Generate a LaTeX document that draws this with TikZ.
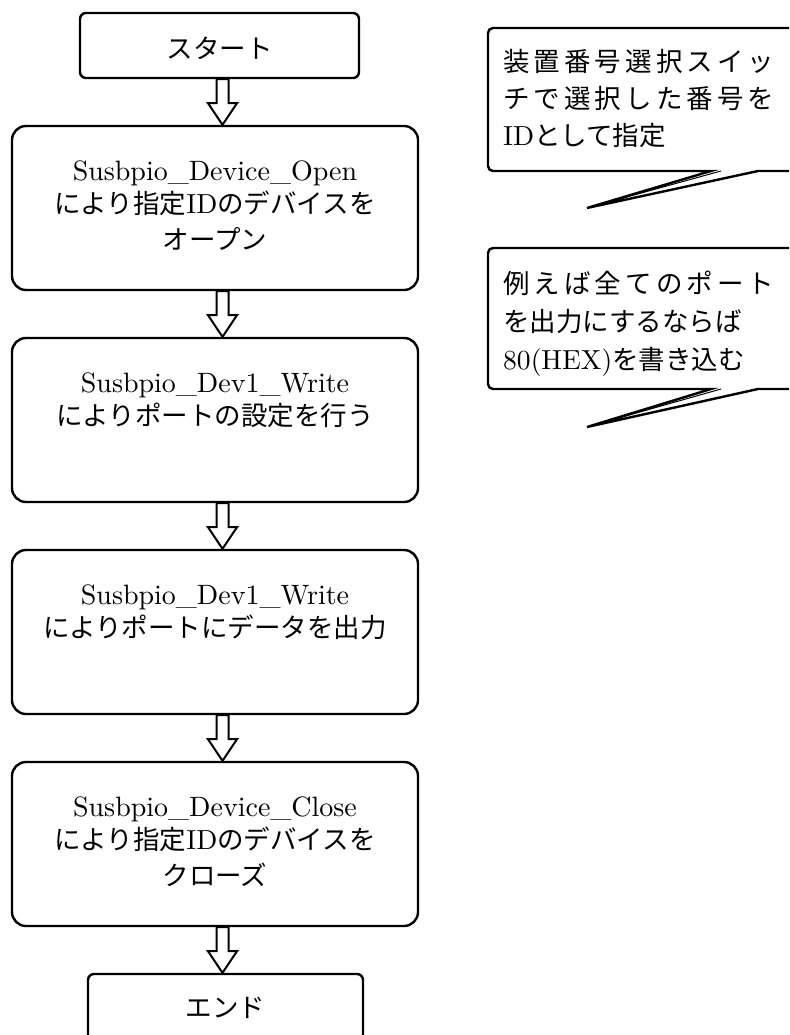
\documentclass[tikz,border=0pt]{standalone}
\usepackage{fontspec}
\newfontfamily\jp{Noto Sans CJK JP}
\newfontfamily\latf{lmroman10-regular.otf}
\usetikzlibrary{calc}
\newcommand\lt[1]{{\latf\addfontfeature{Scale=1.04}#1}}
\newcommand\blockarrow[2]{%
  \draw[barrow] let \p1=(#1.south), \p2=(#2.north) in
    (216.5pt,\y1) -- (216.5pt,\y1-24pt) -- (208pt,\y1-24pt) -- (222.5pt,\y2)
    -- (237pt,\y1-24pt) -- (228.5pt,\y1-24pt) -- (228.5pt,\y1) -- cycle;}
\tikzset{
  mainbox/.style={draw, line width=2.4pt, rounded corners=14pt, minimum width=406pt, minimum height=164pt, inner sep=0pt},
  term/.style={draw, line width=2.4pt, rounded corners=6pt, inner sep=0pt},
  jtxt/.style={inner sep=0pt, anchor=base, font=\jp\fontsize{26.5}{30}\selectfont},
  ltxt/.style={inner sep=0pt, anchor=base, font=\latf\fontsize{28}{30}\selectfont},
  ctxt/.style={inner sep=0pt, anchor=base west, font=\jp\fontsize{26.5}{30}\selectfont},
  barrow/.style={draw, fill=white, line width=2pt, line join=miter},
  callout/.style={draw, line width=2.4pt, line join=miter},
}
\begin{document}
\begin{tikzpicture}[x=1pt,y=-1pt]
\useasboundingbox (0,0) rectangle (789,1035);
\clip (0,0) rectangle (789,1035);

% terminals
\node[term, minimum width=279pt, minimum height=65pt] (start) at (219.5,45.5) {};
\node[jtxt] (tstart) at (219.5,59) {スタート};

\node[mainbox] (b1) at (215,208) {};
\node[ltxt] (b1a) at (215,180) {Susbpio\_Device\_Open};
\node[jtxt] (b1b) at (215,213) {により指定\lt{ID}のデバイスを};
\node[jtxt] (b1c) at (215,249) {オープン};

\node[mainbox] (b2) at (215,420) {};
\node[ltxt] (b2a) at (215,392) {Susbpio\_Dev1\_Write};
\node[jtxt] (b2b) at (215,425) {によりポートの設定を行う};

\node[mainbox] (b3) at (215,632) {};
\node[ltxt] (b3a) at (215,604) {Susbpio\_Dev1\_Write};
\node[jtxt] (b3b) at (215,637) {によりポートにデータを出力};

\node[mainbox] (b4) at (215,844) {};
\node[ltxt] (b4a) at (215,816) {Susbpio\_Device\_Close};
\node[jtxt] (b4b) at (215,849) {により指定\lt{ID}のデバイスを};
\node[jtxt] (b4c) at (215,885) {クローズ};

\node[term, minimum width=275pt, minimum height=90pt] (end) at (225.5,1019) {};
\node[jtxt] (tend) at (225.5,1017) {エンド};

% block arrows
\blockarrow{start}{b1}
\blockarrow{b1}{b2}
\blockarrow{b2}{b3}
\blockarrow{b3}{b4}
\blockarrow{b4}{end}

% callout 1
\draw[callout] (810,171) -- (758,171) -- (587,208) -- (711,171)
  [rounded corners=5pt] -- (488,171) -- (488,28) -- (810,28);
\draw[line width=1pt] (587,208) -- (721,171);
\node[ctxt] (c1a) at (503,72) {\makebox[271pt][s]{装\hfill 置\hfill 番\hfill 号\hfill 選\hfill 択\hfill ス\hfill イ\hfill ッ}};
\node[ctxt] (c1b) at (503,109) {\makebox[271pt][s]{チ\hfill で\hfill 選\hfill 択\hfill し\hfill た\hfill 番\hfill 号\hfill を}};
\node[ctxt] (c1c) at (503,146) {\lt{ID}として指定};

% callout 2
\draw[callout] (810,389) -- (758,389) -- (587,427) -- (711,389)
  [rounded corners=5pt] -- (488,389) -- (488,248) -- (810,248);
\draw[line width=1pt] (587,427) -- (721,389);
\node[ctxt] (c2a) at (503,293) {\makebox[271pt][s]{例\hfill え\hfill ば\hfill 全\hfill て\hfill の\hfill ポ\hfill ー\hfill ト}};
\node[ctxt] (c2b) at (503,331) {を出力にするならば};
\node[ctxt] (c2c) at (503,369) {\lt{80(HEX)}を書き込む};
\end{tikzpicture}
\end{document}
